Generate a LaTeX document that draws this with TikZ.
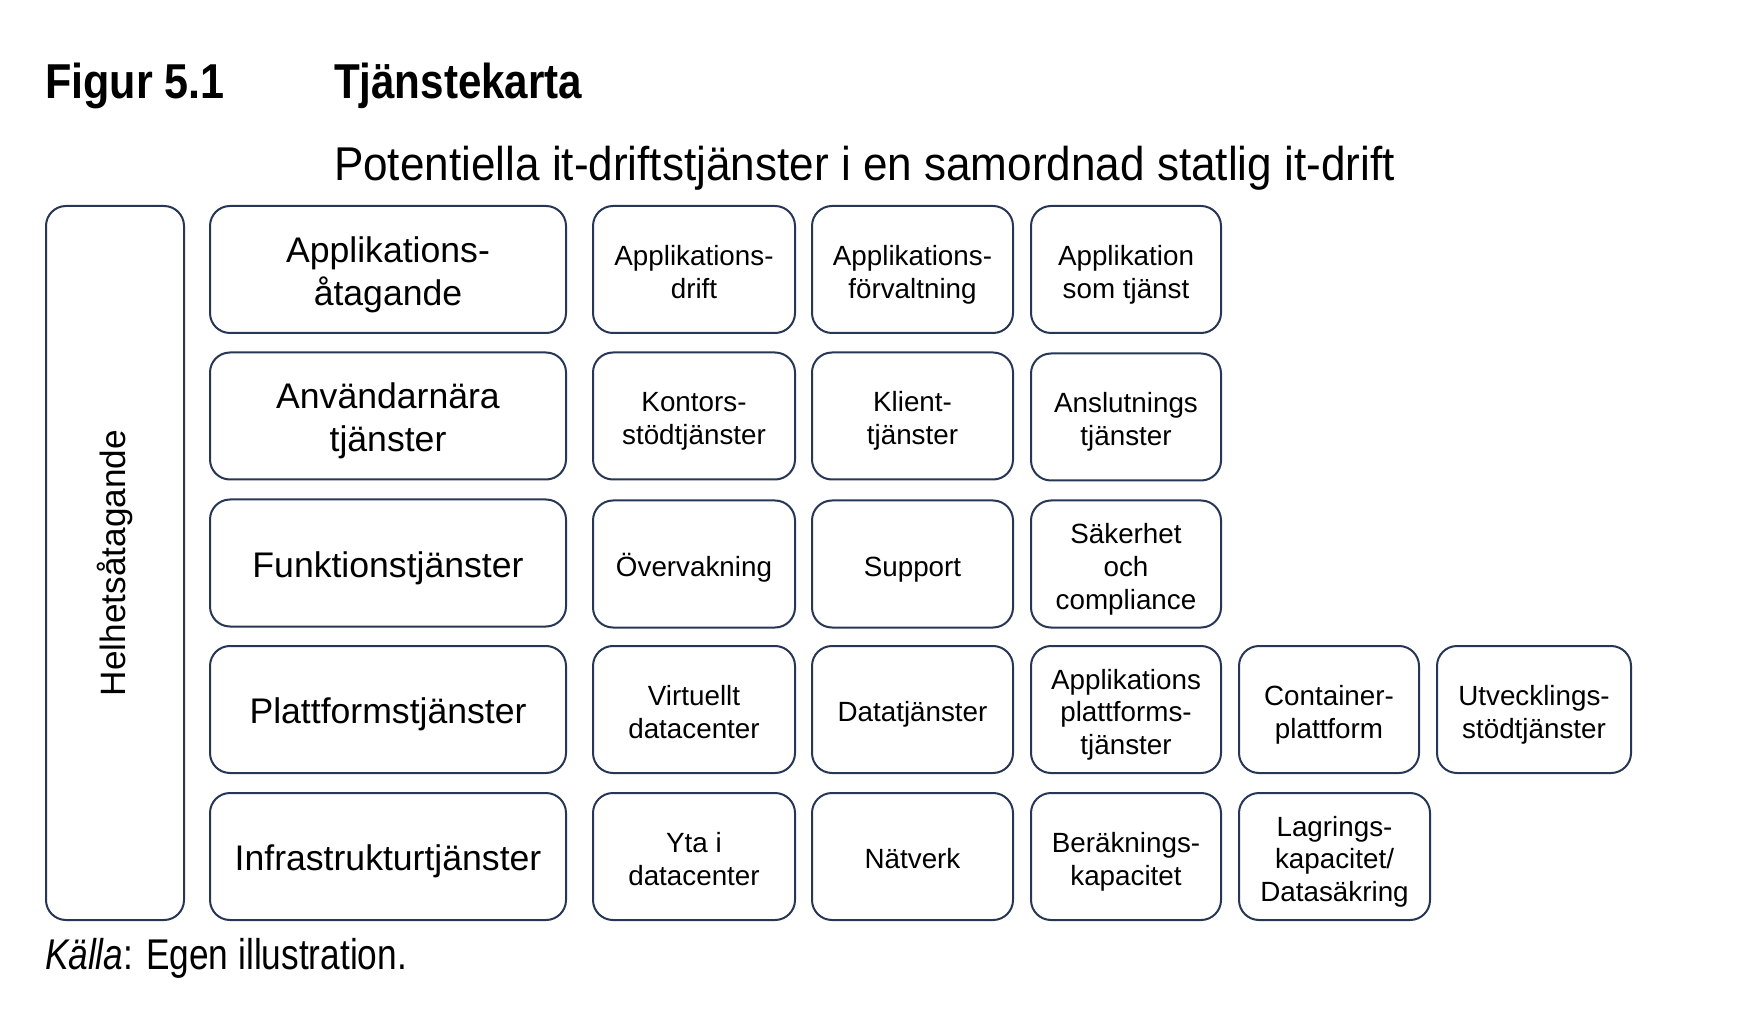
\documentclass[tikz,border=0pt]{standalone}
\usepackage{fontspec}
\setmainfont{Liberation Sans}
\newfontfamily\boxfont{Liberation Sans}
\newfontfamily\figfont[FakeStretch=0.88]{Liberation Sans}
\newfontfamily\titlefont[FakeStretch=0.86]{Liberation Sans}
\newfontfamily\subfont[FakeStretch=0.93]{Liberation Sans}
\newfontfamily\srcfont[FakeStretch=0.82]{Liberation Sans}
\definecolor{edge}{RGB}{38,54,84}
% struts: small cells (tS/bS), head cells (tB/bB)
\newcommand\tS{\rule{0pt}{15.4pt}}
\newcommand\bS{\rule[-3pt]{0pt}{3pt}}
\newcommand\tB{\rule{0pt}{18.3pt}}
\newcommand\bB{\rule[-4pt]{0pt}{4pt}}
\tikzset{
  cellbase/.style={draw=edge, line width=1pt, rounded corners=10pt, inner sep=0pt, outer sep=0pt,
    minimum height=63.5pt, align=center, text=black},
  cell/.style={cellbase, font=\boxfont\fontsize{13.9}{16.4}\selectfont},
  headcell/.style={cellbase, minimum width=178pt, font=\boxfont\fontsize{17.8}{21.4}\selectfont},
  ctext/.style={inner sep=0pt, outer sep=0pt, text=black}
}
\begin{document}
\begin{tikzpicture}[x=0.5pt,y=-0.5pt]
\useasboundingbox (0,0) rectangle (1764,1036);
% titles
\node[ctext, anchor=base west] (fig) at (45,99) {\figfont\bfseries\fontsize{24.5}{28}\selectfont Figur 5.1};
\node[ctext, anchor=base west] (ttl) at (334,99) {\titlefont\bfseries\fontsize{24.5}{28}\selectfont Tjänstekarta};
\node[ctext, anchor=base west] (sub) at (334,181) {\subfont\fontsize{23.7}{28}\selectfont Potentiella it-driftstjänster i en samordnad statlig it-drift};
% left tall box
\node[cellbase, minimum width=69pt, minimum height=357pt] (helhet) at (115,563) {};
\node[ctext, rotate=90, font=\boxfont\fontsize{17.6}{21}\selectfont] (helhettxt) at (helhet.center) {Helhetsåtagande};
% row 1
\node[headcell] (r1c1) at (388,269.5) {\tB Applikations-\\åtagande\bB};
\node[cell, minimum width=101pt] (r1c2) at (694,269.5) {\tS Applikations-\\drift\bS};
\node[cell, minimum width=100.5pt] (r1c3) at (912.5,269.5) {\tS Applikations-\\förvaltning\bS};
\node[cell, minimum width=95pt] (r1c4) at (1126,269.5) {\tS Applikation\\som tjänst\bS};
% row 2
\node[headcell] (r2c1) at (388,416) {\tB Användarnära\\tjänster\bB};
\node[cell, minimum width=101pt] (r2c2) at (694,416) {\tS Kontors-\\stödtjänster\bS};
\node[cell, minimum width=100.5pt] (r2c3) at (912.5,416) {\tS Klient-\\tjänster\bS};
\node[cell, minimum width=95pt] (r2c4) at (1126,417) {\tS Anslutnings\\tjänster\bS};
% row 3
\node[headcell] (r3c1) at (388,563) {\tB Funktionstjänster\bB};
\node[cell, minimum width=101pt] (r3c2) at (694,564) {\tS Övervakning\bS};
\node[cell, minimum width=100.5pt] (r3c3) at (912.5,564) {\tS Support\bS};
\node[cell, minimum width=95pt] (r3c4) at (1126,564) {\tS Säkerhet\\och\\compliance\bS};
% row 4
\node[headcell] (r4c1) at (388,709.5) {\tB Plattformstjänster\bB};
\node[cell, minimum width=101pt] (r4c2) at (694,709.5) {\tS Virtuellt\\datacenter\bS};
\node[cell, minimum width=100.5pt] (r4c3) at (912.5,709.5) {\tS Datatjänster\bS};
\node[cell, minimum width=95pt] (r4c4) at (1126,709.5) {\tS Applikations\\plattforms-\\tjänster\bS};
\node[cell, minimum width=90pt] (r4c5) at (1329,709.5) {\tS Container-\\plattform\bS};
\node[cell, minimum width=97pt] (r4c6) at (1534,709.5) {\tS Utvecklings-\\stödtjänster\bS};
% row 5
\node[headcell] (r5c1) at (388,856.5) {\tB Infrastrukturtjänster\bB};
\node[cell, minimum width=101pt] (r5c2) at (694,856.5) {\tS Yta i\\datacenter\bS};
\node[cell, minimum width=100.5pt] (r5c3) at (912.5,856.5) {\tS Nätverk\bS};
\node[cell, minimum width=95pt] (r5c4) at (1126,856.5) {\tS Beräknings-\\kapacitet\bS};
\node[cell, minimum width=95.5pt] (r5c5) at (1334.5,856.5) {\tS Lagrings-\\kapacitet/\\Datasäkring\bS};
% source
\node[ctext, anchor=base west] (src) at (45,969) {\srcfont\fontsize{21.5}{26}\selectfont\textit{Källa}: Egen illustration.};
\end{tikzpicture}
\end{document}
